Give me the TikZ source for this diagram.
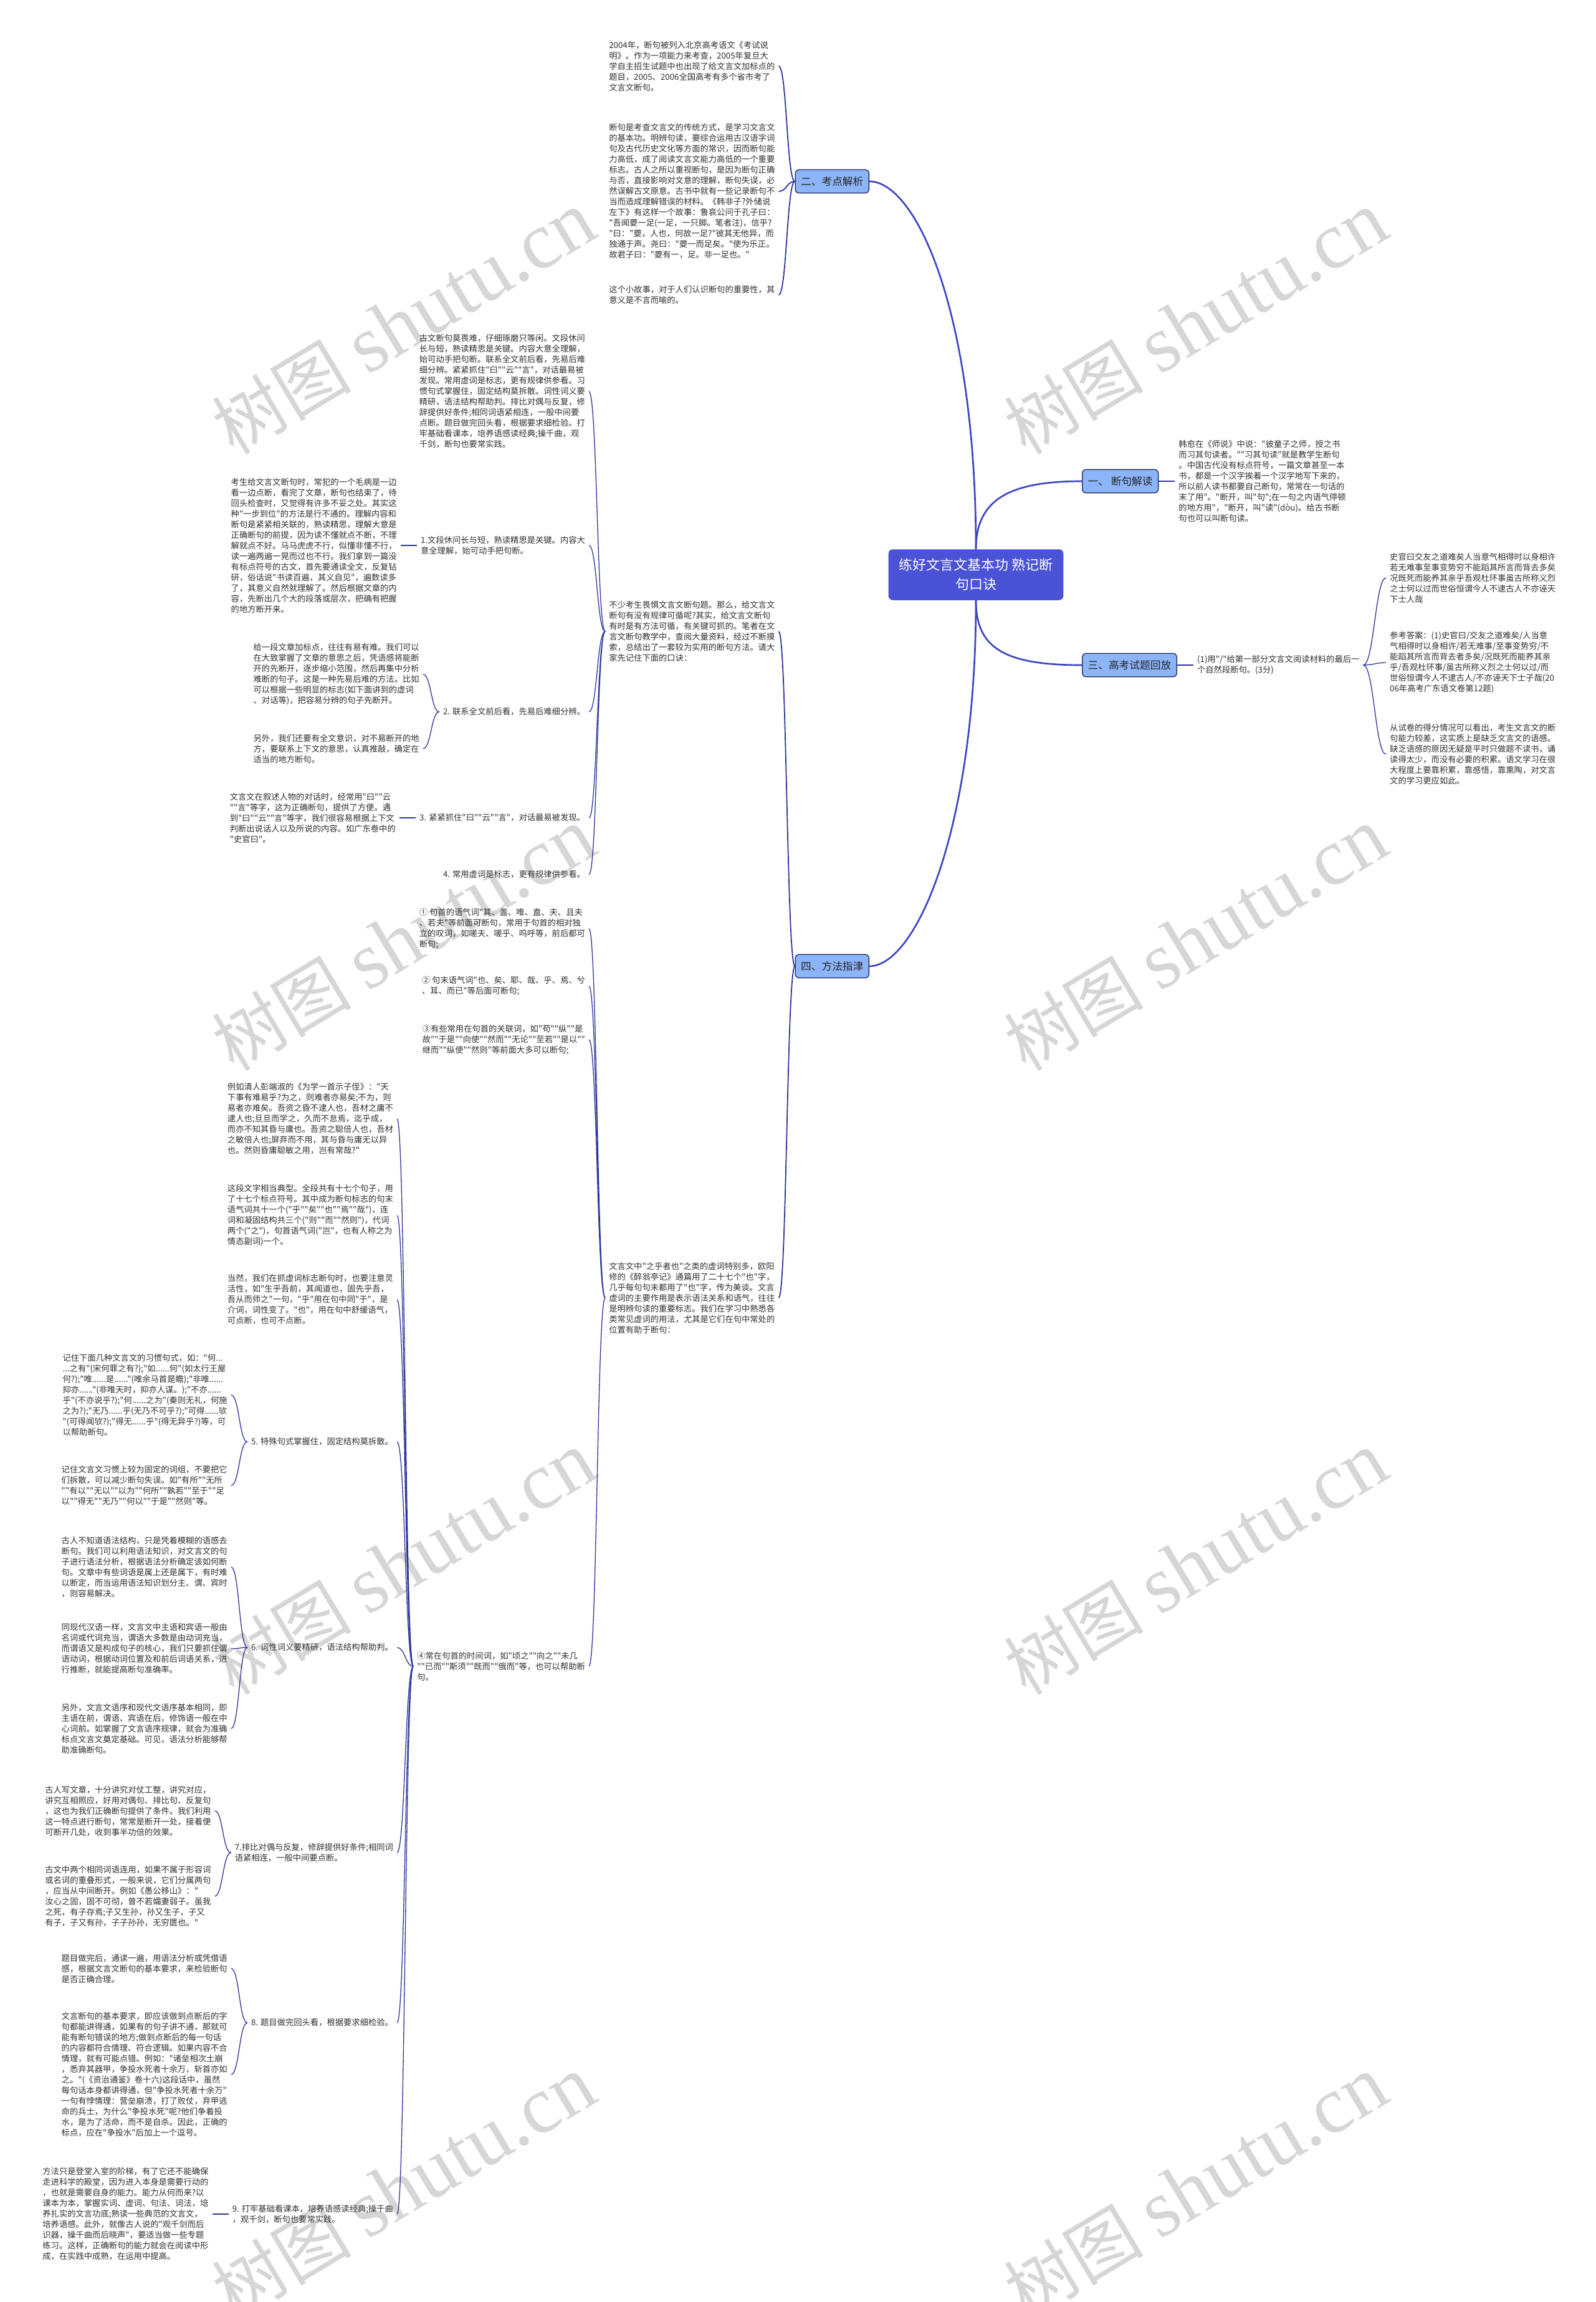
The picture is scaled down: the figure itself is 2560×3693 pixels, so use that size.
\documentclass[tikz,border=0pt]{standalone}
\usepackage{fontspec}
\newfontfamily\cjk[Ligatures=TeXOff]{Noto Sans CJK SC}
\newfontfamily\wmlatin{Liberation Serif}
\definecolor{rootblue}{HTML}{4A52D6}
\definecolor{boxblue}{HTML}{8CB4F8}
\definecolor{boxline}{HTML}{1C2658}
\definecolor{trunkblue}{HTML}{3D46C2}
\definecolor{linkblue}{HTML}{2C3599}
\definecolor{inkgray}{HTML}{2F2F2F}
\definecolor{wmgray}{HTML}{D6D6D6}
\tikzset{
  rootbox/.style={fill=rootblue, rounded corners=7pt, text=white, align=center,
    font=\cjk\fontsize{22}{31}\selectfont, inner xsep=17pt, inner ysep=15pt},
  lvone/.style={draw=boxline, line width=1.3pt, fill=boxblue, rounded corners=6pt,
    text=black!85, font=\cjk\fontsize{16.7}{20}\selectfont, inner xsep=9pt, inner ysep=11pt},
  txt/.style={align=left, inner sep=6pt, text=inkgray, font=\cjk\fontsize{13.3}{17}\selectfont},
  ltxt/.style={txt, anchor=east, xshift=-26pt},
  rtxt/.style={txt, anchor=west, xshift=26pt},
  trunk/.style={draw=trunkblue, line width=2.7pt},
  link/.style={draw=linkblue, line width=1.8pt},
  sublink/.style={draw=linkblue, line width=1.3pt},
  wmark/.style={text=wmgray, rotate=31, inner sep=0pt, font=\cjk\fontsize{112}{112}\selectfont},
}
\begin{document}
\begin{tikzpicture}[x=1pt,y=-1pt]
  \useasboundingbox (0,0) rectangle (2560,3693);
  % watermark
  \foreach \wx/\wy [count=\i] in {648/518,1919/518,648/1507,1919/1507,648/2508,1919/2508,648/3509,1919/3509}
    \node[wmark] (wm\i) at (\wx,\wy) {树图 {\wmlatin\fontsize{130}{130}\selectfont shutu.cn}};

  % root and first level
  \node[rootbox] (root) at (1566,922) {练好文言文基本功 熟记断\\句口诀};
  \node[lvone, anchor=east] (n2) at (1395,291) {二、考点解析};
  \node[lvone, anchor=west] (n1) at (1736,772) {一、 断句解读};
  \node[lvone, anchor=west] (n3) at (1736,1067) {三、高考试题回放};
  \node[lvone, anchor=east] (n4) at (1395,1550) {四、方法指津};

  % right side
  \node[rtxt] (t11) at (n1.east) {韩愈在《师说》中说："彼童子之师，授之书\\而习其句读者。""习其句读"就是教学生断句\\。中国古代没有标点符号，一篇文章甚至一本\\书，都是一个汉字挨着一个汉字地写下来的，\\所以前人读书都要自己断句，常常在一句话的\\末了用"。"断开，叫"句";在一句之内语气停顿\\的地方用"，"断开，叫"读"(dòu)。给古书断\\句也可以叫断句读。};
  \node[rtxt] (t31) at (n3.east) {(1)用"/"给第一部分文言文阅读材料的最后一\\个自然段断句。(3分)};
  \node[txt, anchor=west] (t311) at (2224,927) {史官曰交友之道难矣人当意气相得时以身相许\\若无难事至事变势穷不能蹈其所言而背去多矣\\况既死而能养其亲乎吾观杜环事虽古所称义烈\\之士何以过而世俗恒谓今人不逮古人不亦诬天\\下士人哉};
  \node[txt, anchor=west] (t312) at (2224,1063) {参考答案：(1)史官曰/交友之道难矣/人当意\\气相得时以身相许/若无难事/至事变势穷/不\\能蹈其所言而背去者多矣/况既死而能养其亲\\乎/吾观杜环事/虽古所称义烈之士何以过/而\\世俗恒谓今人不逮古人/不亦诬天下士子哉(20\\06年高考广东语文卷第12题)};
  \node[txt, anchor=west] (t313) at (2224,1210) {从试卷的得分情况可以看出，考生文言文的断\\句能力较差，这实质上是缺乏文言文的语感。\\缺乏语感的原因无疑是平时只做题不读书，诵\\读得太少，而没有必要的积累。语文学习在很\\大程度上要靠积累，靠感悟，靠熏陶，对文言\\文的学习更应如此。};

  % 二、考点解析
  \node[ltxt] (t21) at (n2.west |- 0,106) {2004年，断句被列入北京高考语文《考试说\\明》。作为一项能力来考查，2005年复旦大\\学自主招生试题中也出现了给文言文加标点的\\题目，2005、2006全国高考有多个省市考了\\文言文断句。};
  \node[ltxt] (t22) at (n2.west |- 0,307) {断句是考查文言文的传统方式，是学习文言文\\的基本功。明辨句读，要综合运用古汉语字词\\句及古代历史文化等方面的常识，因而断句能\\力高低，成了阅读文言文能力高低的一个重要\\标志。古人之所以重视断句，是因为断句正确\\与否，直接影响对文意的理解，断句失误，必\\然误解古文原意。古书中就有一些记录断句不\\当而造成理解错误的材料。《韩非子?外储说\\左下》有这样一个故事：鲁哀公问于孔子曰：\\"吾闻夔一足(一足，一只脚。笔者注)，信乎?\\"曰："夔，人也，何故一足?"彼其无他异，而\\独通于声。尧曰："夔一而足矣。"使为乐正。\\故君子曰："夔有一，足。非一足也。"};
  \node[ltxt] (t23) at (n2.west |- 0,473) {这个小故事，对于人们认识断句的重要性，其\\意义是不言而喻的。};

  % 四、方法指津
  \node[ltxt] (t41) at (n4.west |- 0,1013) {不少考生畏惧文言文断句题。那么，给文言文\\断句有没有规律可循呢?其实，给文言文断句\\有时是有方法可循，有关键可抓的。笔者在文\\言文断句教学中，查阅大量资料，经过不断摸\\索，总结出了一套较为实用的断句方法。请大\\家先记住下面的口诀：};
  \node[ltxt] (t42) at (n4.west |- 0,2082) {文言文中"之乎者也"之类的虚词特别多，欧阳\\修的《醉翁亭记》通篇用了二十七个"也"字，\\几乎每句句末都用了"也"字，传为美谈。文言\\虚词的主要作用是表示语法关系和语气，往往\\是明辨句读的重要标志。我们在学习中熟悉各\\类常见虚词的用法，尤其是它们在句中常处的\\位置有助于断句：};

  \node[ltxt] (k0) at (t41.west |- 0,628) {古文断句莫畏难，仔细琢磨只等闲。文段休问\\长与短，熟读精思是关键。内容大意全理解，\\始可动手把句断。联系全文前后看，先易后难\\细分辨。紧紧抓住"曰""云""言"，对话最易被\\发现。常用虚词是标志，更有规律供参看。习\\惯句式掌握住，固定结构莫拆散。词性词义要\\精研，语法结构帮助判。排比对偶与反复，修\\辞提供好条件;相同词语紧相连，一般中间要\\点断。题目做完回头看，根据要求细检验。打\\牢基础看课本，培养语感读经典;操千曲，观\\千剑，断句也要常实践。};
  \node[ltxt] (k1) at (t41.west |- 0,875) {1.文段休问长与短，熟读精思是关键。内容大\\意全理解，始可动手把句断。};
  \node[ltxt] (k2) at (t41.west |- 0,1142) {2. 联系全文前后看，先易后难细分辨。};
  \node[ltxt] (k3) at (t41.west |- 0,1312) {3. 紧紧抓住"曰""云""言"，对话最易被发现。};
  \node[ltxt] (k4) at (t41.west |- 0,1403) {4. 常用虚词是标志，更有规律供参看。};
  \node[ltxt] (k1c) at (k1.west) {考生给文言文断句时，常犯的一个毛病是一边\\看一边点断，看完了文章，断句也结束了，待\\回头检查时，又觉得有许多不妥之处。其实这\\种"一步到位"的方法是行不通的。理解内容和\\断句是紧紧相关联的，熟读精思，理解大意是\\正确断句的前提，因为读不懂就点不断，不理\\解就点不好。马马虎虎不行，似懂非懂不行，\\读一遍两遍一晃而过也不行。我们拿到一篇没\\有标点符号的古文，首先要通读全文，反复钻\\研，俗话说"书读百遍，其义自见"，遍数读多\\了，其意义自然就理解了。然后根据文章的内\\容，先断出几个大的段落或层次，把确有把握\\的地方断开来。};
  \node[ltxt] (k2a) at (k2.west |- 0,1082) {给一段文章加标点，往往有易有难。我们可以\\在大致掌握了文章的意思之后，凭语感将能断\\开的先断开，逐步缩小范围，然后再集中分析\\难断的句子。这是一种先易后难的方法。比如\\可以根据一些明显的标志(如下面讲到的虚词\\、对话等)，把容易分辨的句子先断开。};
  \node[ltxt] (k2b) at (k2.west |- 0,1201) {另外，我们还要有全文意识，对不易断开的地\\方，要联系上下文的意思，认真推敲，确定在\\适当的地方断句。};
  \node[ltxt] (k3a) at (k3.west) {文言文在叙述人物的对话时，经常用"曰""云\\""言"等字，这为正确断句，提供了方便。遇\\到"曰""云""言"等字，我们很容易根据上下文\\判断出说话人以及所说的内容。如广东卷中的\\"史官曰"。};

  \node[ltxt] (q1) at (t42.west |- 0,1490) {① 句首的语气词"其、盖、唯、盍、夫、且夫\\、若夫"等前面可断句，常用于句首的相对独\\立的叹词，如嗟夫、嗟乎、呜呼等，前后都可\\断句;};
  \node[ltxt] (q2) at (t42.west |- 0,1582) {② 句末语气词"也、矣、耶、哉、乎、焉、兮\\、耳、而已"等后面可断句;};
  \node[ltxt] (q3) at (t42.west |- 0,1668) {③有些常用在句首的关联词，如"苟""纵""是\\故""于是""向使""然而""无论""至若""是以""\\继而""纵使""然则"等前面大多可以断句;};
  \node[ltxt] (q4) at (t42.west |- 0,2673) {④常在句首的时间词，如"顷之""向之""未几\\""已而""斯须""既而""俄而"等，也可以帮助断\\句。};

  \node[ltxt] (r1) at (q4.west |- 0,1795) {例如清人彭端淑的《为学一首示子侄》："天\\下事有难易乎?为之，则难者亦易矣;不为，则\\易者亦难矣。吾资之昏不逮人也，吾材之庸不\\逮人也;旦旦而学之，久而不怠焉，迄乎成，\\而亦不知其昏与庸也。吾资之聪倍人也，吾材\\之敏倍人也;屏弃而不用，其与昏与庸无以异\\也。然则昏庸聪敏之用，岂有常哉?"};
  \node[ltxt] (r2) at (q4.west |- 0,1950) {这段文字相当典型。全段共有十七个句子，用\\了十七个标点符号。其中成为断句标志的句末\\语气词共十一个("乎""矣""也""焉""哉")，连\\词和凝固结构共三个("则""而""然则")，代词\\两个("之")，句首语气词("岂"，也有人称之为\\情态副词)一个。};
  \node[ltxt] (r3) at (q4.west |- 0,2085) {当然，我们在抓虚词标志断句时，也要注意灵\\活性，如"生乎吾前，其闻道也，固先乎吾，\\吾从而师之"一句，"乎"用在句中同"于"，是\\介词，词性变了。"也"，用在句中舒缓语气，\\可点断，也可不点断。};
  \node[ltxt] (k5) at (q4.west |- 0,2313) {5. 特殊句式掌握住，固定结构莫拆散。};
  \node[ltxt] (k6) at (q4.west |- 0,2643) {6. 词性词义要精研，语法结构帮助判。};
  \node[ltxt] (k7) at (q4.west |- 0,2972) {7.排比对偶与反复，修辞提供好条件;相同词\\语紧相连，一般中间要点断。};
  \node[ltxt] (k8) at (q4.west |- 0,3245) {8. 题目做完回头看，根据要求细检验。};
  \node[ltxt] (k9) at (q4.west |- 0,3552) {9. 打牢基础看课本，培养语感读经典;操千曲\\，观千剑，断句也要常实践。};

  \node[ltxt] (k5a) at (k5.west |- 0,2238) {记住下面几种文言文的习惯句式，如："何...\\...之有"(宋何罪之有?);"如......何"(如太行王屋\\何?);"唯......是......"(唯余马首是瞻);"非唯......\\抑亦......"(非唯天时，抑亦人谋。);"不亦......\\乎"(不亦说乎?);"何......之为"(秦则无礼，何施\\之为?);"无乃......乎(无乃不可乎?);"可得......欤\\"(可得闻欤?);"得无......乎"(得无异乎?)等，可\\以帮助断句。};
  \node[ltxt] (k5b) at (k5.west |- 0,2383) {记住文言文习惯上较为固定的词组，不要把它\\们拆散，可以减少断句失误。如"有所""无所\\""有以""无以""以为""何所""孰若""至于""足\\以""得无""无乃""何以""于是""然则"等。};
  \node[ltxt] (k6a) at (k6.west |- 0,2514) {古人不知道语法结构，只是凭着模糊的语感去\\断句。我们可以利用语法知识，对文言文的句\\子进行语法分析，根据语法分析确定该如何断\\句。文章中有些词语是属上还是属下，有时难\\以断定，而当运用语法知识划分主、谓、宾时\\，则容易解决。};
  \node[ltxt] (k6b) at (k6.west |- 0,2645) {同现代汉语一样，文言文中主语和宾语一般由\\名词或代词充当，谓语大多数是由动词充当，\\而谓语又是构成句子的核心，我们只要抓住谓\\语动词，根据动词位置及和前后词语关系，进\\行推断，就能提高断句准确率。};
  \node[ltxt] (k6c) at (k6.west |- 0,2773) {另外，文言文语序和现代文语序基本相同，即\\主语在前，谓语、宾语在后，修饰语一般在中\\心词前。如掌握了文言语序规律，就会为准确\\标点文言文奠定基础。可见，语法分析能够帮\\助准确断句。};
  \node[ltxt] (k7a) at (k7.west |- 0,2905) {古人写文章，十分讲究对仗工整，讲究对应，\\讲究互相照应，好用对偶句、排比句、反复句\\，这也为我们正确断句提供了条件。我们利用\\这一特点进行断句，常常是断开一处，接着便\\可断开几处，收到事半功倍的效果。};
  \node[ltxt] (k7b) at (k7.west |- 0,3042) {古文中两个相同词语连用，如果不属于形容词\\或名词的重叠形式，一般来说，它们分属两句\\，应当从中间断开。例如《愚公移山》："\\汝心之固，固不可彻，曾不若孀妻弱子。虽我\\之死，有子存焉;子又生孙，孙又生子，子又\\有子，子又有孙，子子孙孙，无穷匮也。"};
  \node[ltxt] (k8a) at (k8.west |- 0,3158) {题目做完后，通读一遍，用语法分析或凭借语\\感，根据文言文断句的基本要求，来检验断句\\是否正确合理。};
  \node[ltxt] (k8b) at (k8.west |- 0,3328) {文言断句的基本要求，即应该做到点断后的字\\句都能讲得通，如果有的句子讲不通，那就可\\能有断句错误的地方;做到点断后的每一句话\\的内容都符合情理、符合逻辑。如果内容不合\\情理，就有可能点错。例如："诸垒相次土崩\\，悉弃其器甲，争投水死者十余万，斩首亦如\\之。"(《资治通鉴》卷十六)这段话中，虽然\\每句话本身都讲得通，但"争投水死者十余万"\\一句有悖情理：营垒崩溃，打了败仗，弃甲逃\\命的兵士，为什么"争投水死"呢?他们争着投\\水，是为了活命，而不是自杀。因此，正确的\\标点，应在"争投水"后加上一个逗号。};
  \node[ltxt] (k9a) at (k9.west) {方法只是登堂入室的阶梯，有了它还不能确保\\走进科学的殿堂，因为进入本身是需要行动的\\，也就是需要自身的能力。能力从何而来?以\\课本为本，掌握实词、虚词、句法、词法，培\\养扎实的文言功底;熟读一些典范的文言文，\\培养语感。此外，就像古人说的"观千剑而后\\识器，操千曲而后晓声"，要适当做一些专题\\练习。这样，正确断句的能力就会在阅读中形\\成，在实践中成熟，在运用中提高。};

  % trunk from the root
  \draw[trunk] (root.north) .. controls +(0,-380) and +(75,0) .. (n2.east);
  \draw[trunk] (root.north) .. controls +(0,-80) and +(-116,0) .. (n1.west);
  \draw[trunk] (root.south) .. controls +(0,76) and +(-126,0) .. (n3.west);
  \draw[trunk] (root.south) .. controls +(0,366) and +(75,0) .. (n4.east);

  % right-hand links
  \draw[link] (n1.east) -- (t11.west);
  \draw[link] (n3.east) -- (t31.west);
  \foreach \c in {t311,t312,t313}
    \draw[sublink] (t31.east) .. controls +(17,0) and +(-17,0) .. (\c.west);

  % left-hand braces, parent/child
  \foreach \p/\c in {n2/t21,n2/t22,n2/t23,n4/t41,n4/t42}
    \draw[link] (\p.west) .. controls +(-13,0) and +(13,0) .. (\c.east);
  \foreach \p/\c in {t41/k0,t41/k1,t41/k2,t41/k3,t41/k4,k2/k2a,k2/k2b,t42/q1,t42/q2,t42/q3,t42/q4,q4/r1,q4/r2,q4/r3,q4/k5,q4/k6,q4/k7,q4/k8,q4/k9,k5/k5a,k5/k5b,k6/k6a,k6/k6b,k6/k6c,k7/k7a,k7/k7b,k8/k8a,k8/k8b}
    \draw[sublink] (\p.west) .. controls +(-13,0) and +(13,0) .. (\c.east);
  \foreach \p/\c in {k1/k1c,k3/k3a,k9/k9a}
    \draw[sublink] (\p.west) -- (\c.east);
\end{tikzpicture}
\end{document}
